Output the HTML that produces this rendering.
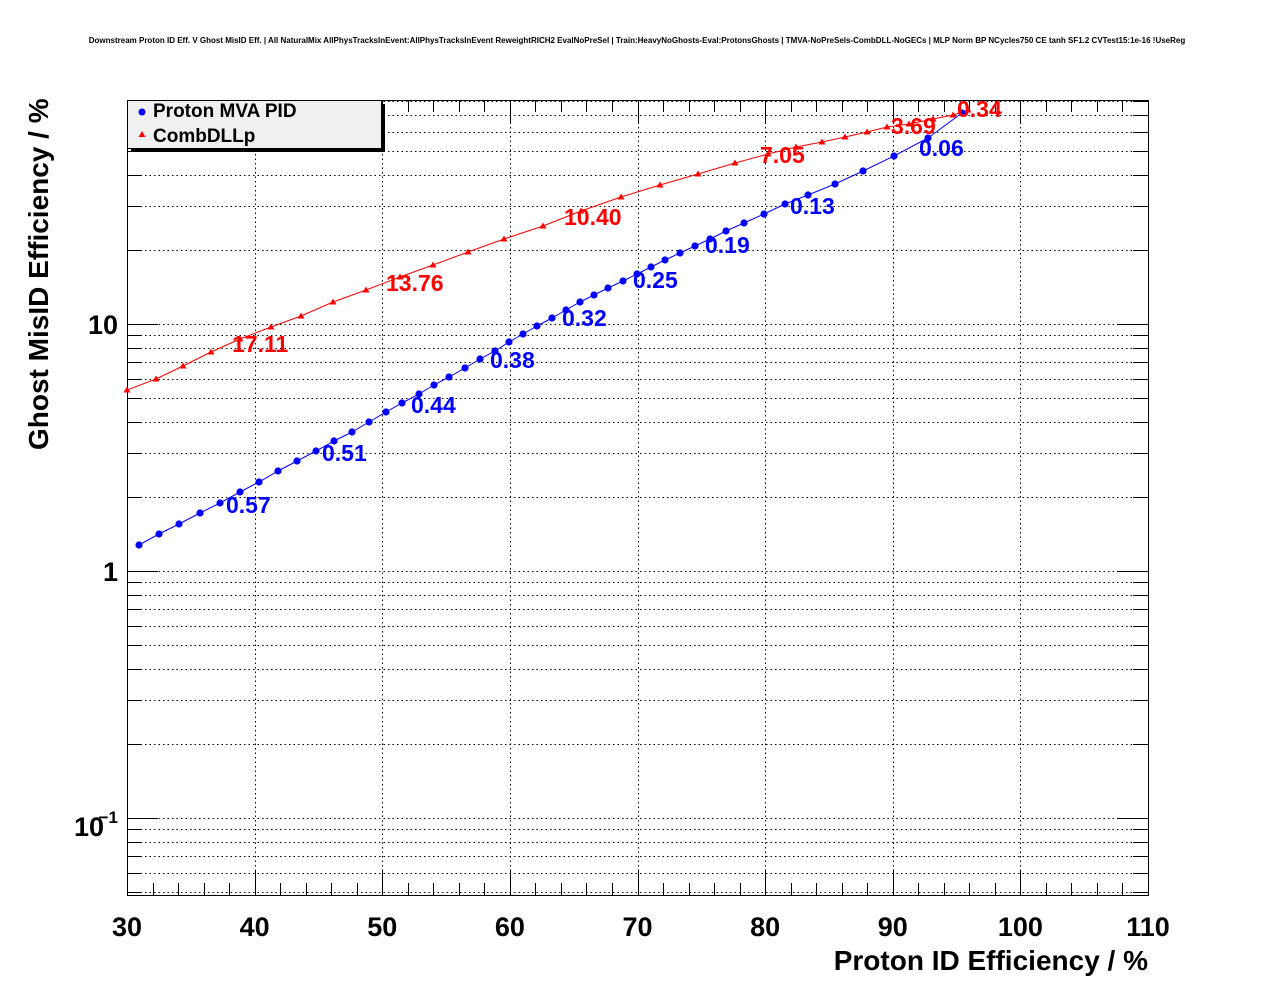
<!DOCTYPE html>
<html><head><meta charset="utf-8"><style>
html,body{margin:0;padding:0;background:#fff;}
svg text{font-family:"Liberation Sans",Arial,sans-serif;font-weight:bold;}
</style></head><body>
<svg id="s" width="1276" height="996" xmlns="http://www.w3.org/2000/svg">
<rect width="1276" height="996" fill="#fff"/>
<text x="637" y="43" font-size="8" text-anchor="middle">Downstream Proton ID Eff. V Ghost MisID Eff. | All NaturalMix AllPhysTracksInEvent:AllPhysTracksInEvent ReweightRICH2 EvalNoPreSel | Train:HeavyNoGhosts-Eval:ProtonsGhosts | TMVA-NoPreSels-CombDLL-NoGECs | MLP Norm BP NCycles750 CE tanh SF1.2 CVTest15:1e-16 !UseReg</text>
<g id="grid"></g>
<g id="ticks" stroke="#000" stroke-width="1"></g>
<rect x="127.5" y="100.5" width="1021" height="795" fill="none" stroke="#000" stroke-width="1"/>
<polyline id="rl" fill="none" stroke="#f00" stroke-width="1"/>
<polyline id="bl" fill="none" stroke="#00f" stroke-width="1"/>
<g id="rp" fill="#f00"></g>
<g id="bp" fill="#00f"></g>
<g font-size="23" fill="#f00">
<text x="232" y="352">17.11</text><text x="386" y="291">13.76</text><text x="564" y="225">10.40</text>
<text x="760" y="163">7.05</text><text x="891" y="134">3.69</text><text x="957" y="117">0.34</text>
</g>
<g font-size="23" fill="#00f">
<text x="226" y="513">0.57</text><text x="322" y="461">0.51</text><text x="411" y="413">0.44</text>
<text x="490" y="368">0.38</text><text x="562" y="326">0.32</text><text x="633" y="288">0.25</text>
<text x="705" y="253">0.19</text><text x="790" y="214">0.13</text><text x="919" y="156">0.06</text>
</g>
<rect x="131" y="104" width="254" height="48" fill="#000"/>
<rect x="127.5" y="100.5" width="254" height="48" fill="#f0f0f0" stroke="#000"/>
<circle cx="142" cy="112" r="3.5" fill="#00f"/>
<polygon points="142,131 138.5,137 145.5,137" fill="#f00"/>
<text x="153" y="117" font-size="19">Proton MVA PID</text>
<text x="153" y="142" font-size="19">CombDLLp</text>
<g font-size="27" text-anchor="middle" id="xl"></g>
<g font-size="27" text-anchor="end">
<text x="118" y="334">10</text><text x="118" y="581">1</text>
<text x="104" y="836">10</text><text x="118" y="823" font-size="17">−1</text>
</g>
<text x="1148" y="970" font-size="28" text-anchor="end">Proton ID Efficiency / %</text>
<text transform="translate(48,450) rotate(-90)" font-size="28">Ghost MisID Efficiency / %</text>
</svg>
<script>
const NS="http://www.w3.org/2000/svg";
function el(p,t,a){const e=document.createElementNS(NS,t);for(const k in a)e.setAttribute(k,a[k]);document.getElementById(p).appendChild(e);return e;}
const X=v=>127+(v-30)*12.7625, Y=v=>571-247*Math.log10(v);
let vals=[];for(const d of [0.01,0.1,1,10])for(let m=1;m<=9;m++){const v=m*d;if(v>0.0488&&v<80.7)vals.push([v,m==1]);}
for(const [v,maj] of vals){const y=Math.round(Y(v))+0.5;
el("grid","line",{x1:127,x2:1148,y1:y,y2:y,stroke:"#000","stroke-dasharray":"1.5,3","stroke-width":1});
const L=maj?31:15;el("ticks","line",{x1:127,x2:127+L,y1:y,y2:y});el("ticks","line",{x1:1148-L,x2:1148,y1:y,y2:y});}
for(let v=30;v<=110;v+=2){const x=Math.round(X(v))+0.5;const maj=v%10==0;const L=maj?24:12;
el("ticks","line",{x1:x,x2:x,y1:895,y2:895-L});el("ticks","line",{x1:x,x2:x,y1:100,y2:100+L});
if(maj&&v>30&&v<110)el("grid","line",{x1:x,x2:x,y1:100,y2:895,stroke:"#000","stroke-dasharray":"1.5,3","stroke-width":1});
if(maj){const t=el("xl","text",{x:X(v),y:936});t.textContent=v;}}
const B=[[139,545],[159,534],[179,524],[200,513],[220,503],[240,492],[259,482],[278,471],[297,461],[316,451],[334,441],[352,432],[369,422],[386,412],[402,403],[419,394],[434,385],[449,377],[465,368],[480,359],[495,351],[509,342],[523,334],[537,326],[552,318],[566,310],[580,302],[594,295],[608,288],[623,281],[637,274],[651,267],[665,260],[680,253],[695,246],[710,239],[726,231],[744,223],[764,214],[785,204],[808,195],[835,184],[863,171],[894,156],[928,138],[962,113]];
const R=[[127,390],[156,379],[183,366],[211,352],[240,339],[271,327],[301,316],[333,302],[366,290],[400,277],[433,265],[468,252],[504,239],[543,226],[581,211],[621,197],[660,185],[698,174],[735,163],[768,154],[796,147],[822,142],[845,137],[867,132],[887,127],[909,124],[933,119],[953,115],[968,110]];
document.getElementById("bl").setAttribute("points",B.map(p=>p.join(",")).join(" "));
document.getElementById("rl").setAttribute("points",R.map(p=>p.join(",")).join(" "));
for(const [x,y] of B)el("bp","circle",{cx:x,cy:y,r:3.6});
for(const [x,y] of R)el("rp","polygon",{points:`${x},${y-3.5} ${x-3.5},${y+2.5} ${x+3.5},${y+2.5}`});
</script>
</body></html>
